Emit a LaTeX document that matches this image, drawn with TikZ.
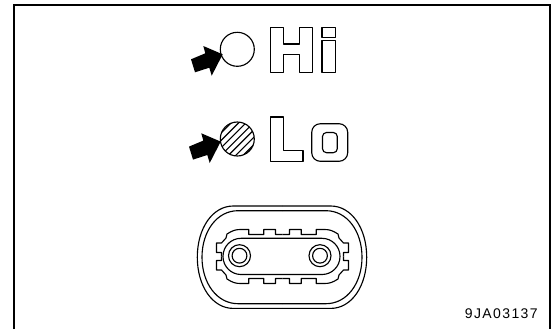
\documentclass[tikz,border=0pt]{standalone}
\usepackage{fontspec}
\setmainfont{Liberation Sans}
\tikzset{
  ln/.style={draw=black,line width=0.85pt,line join=round},
  frameln/.style={draw=black,line width=1.15pt},
  pointer/.style={fill=black,draw=none}
}
\newcommand{\pointershape}{(52.7,34.3) -- (33.3,26) -- (35.3,33.3) -- (21,39.3) -- (25,52.3) -- (39.3,47.7) -- (41.7,55.7) -- cycle}
\newcommand{\gearquad}{(-61,0) -- (-61,-4) -- (-66,-4) -- (-66,-13.5) -- (-61,-13.5) -- (-56.5,-18.5) -- (-55.5,-22.5) .. controls (-50,-26) and (-47,-27) .. (-42,-27) -- (-33.7,-27) -- (-33.7,-22) -- (-18.7,-22) -- (-18.7,-27) -- (-7,-27) -- (-7,-22) -- (0,-22)}
\newcommand{\shellquad}[2]{(-#1,0) .. controls (-#1,-#2*0.56) and (-#1+15,-#2) .. (-#1+36,-#2) -- (0,-#2)}
\begin{document}
\begin{tikzpicture}[x=0.75pt,y=-0.75pt]
\useasboundingbox (0,0) rectangle (553,329);
\fill[white] (0,0) rectangle (553,329);
% frame, open at the bottom
\draw[frameln] (14,329) -- (14,5) -- (550,5) -- (550,329);
% Hi row
\draw[ln] (237.3,49.3) circle[radius=17];
\fill[pointer,shift={(170,20)}] \pointershape;
\draw[ln] (270.7,27.3) -- (283.3,27.3) -- (283.3,44) -- (299.3,44) -- (299.3,27.3) -- (312.3,27.3) -- (312.3,72.7) -- (299.3,72.7) -- (299.3,54.3) -- (283.3,54.3) -- (283.3,72.7) -- (270.7,72.7) -- cycle;
\draw[ln] (322,27.3) rectangle (335.3,37.3);
\draw[ln] (322,40.7) rectangle (335.3,72.7);
% Lo row
\begin{scope}
\clip (237.3,139) circle[radius=17];
\foreach \k in {-4,...,4}
  \draw[draw=black,line width=0.85pt] (220.3+\k*7.4-5,156+5) -- (254.3+\k*7.4+5,122-5);
\end{scope}
\draw[ln] (237.3,139) circle[radius=17];
\fill[pointer,shift={(168,107.3)}] \pointershape;
\draw[ln] (270.7,117) -- (283.3,117) -- (283.3,150.5) -- (303,150.5) -- (303,161.5) -- (270.7,161.5) -- cycle;
\draw[ln,rounded corners=6.5pt] (311.7,123.7) rectangle (347.7,161.3);
\draw[ln,rounded corners=3pt] (322.5,132.5) rectangle (337.3,152.7);
% connector
\foreach \sx/\sy in {1/1,-1/1,1/-1,-1/-1}{
  \draw[ln,shift={(282,257.2)},xscale=\sx,yscale=\sy] \shellquad{84.7}{51.2};
  \draw[ln,shift={(282,257.2)},xscale=\sx,yscale=\sy] \shellquad{80}{46.5};
  \draw[ln,shift={(282.5,256.5)},xscale=\sx,yscale=\sy] \gearquad;
}
\draw[ln,rounded corners=13.5pt] (223,238.3) rectangle (340,274.5);
\foreach \px in {239.5,320}{
  \draw[ln] (\px,255.7) circle[radius=11];
  \draw[ln] (\px,255.7) circle[radius=7.4];
}
\node[anchor=east,inner sep=0pt,font=\addfontfeature{LetterSpace=10}\fontsize{10.5pt}{12pt}\selectfont] (code) at (538,314) {9JA03137};
\end{tikzpicture}
\end{document}
